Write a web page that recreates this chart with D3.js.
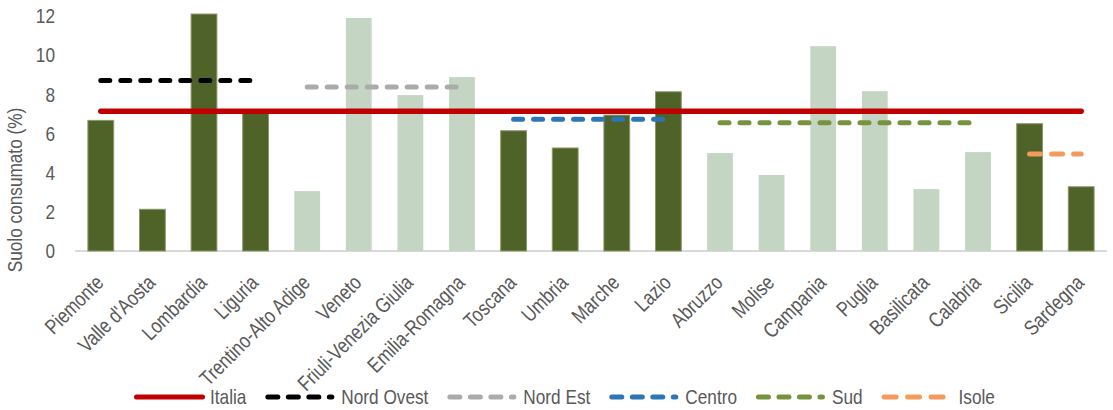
<!DOCTYPE html>
<html>
<head>
<meta charset="utf-8">
<script src="https://cdn.jsdelivr.net/npm/d3@7"></script>
<style>
  html, body { margin: 0; padding: 0; background: #fff; }
  svg { display: block; }
  text { font-family: "Liberation Sans", Arial, sans-serif; fill: #595959; }
</style>
</head>
<body>
<svg id="chart" width="1113" height="410"></svg>
<script>
// ---- data ----
const categories = ["Piemonte", "Valle d'Aosta", "Lombardia", "Liguria", "Trentino-Alto Adige", "Veneto",
  "Friuli-Venezia Giulia", "Emilia-Romagna", "Toscana", "Umbria", "Marche", "Lazio", "Abruzzo", "Molise",
  "Campania", "Puglia", "Basilicata", "Calabria", "Sicilia", "Sardegna"];
const macroArea = ["NO", "NO", "NO", "NO", "NE", "NE", "NE", "NE", "C", "C", "C", "C",
  "S", "S", "S", "S", "S", "S", "I", "I"];
const regionValues = [6.67, 2.13, 12.1, 7.05, 3.06, 11.9, 7.96, 8.88, 6.14, 5.26, 6.94, 8.13,
  5.0, 3.88, 10.46, 8.16, 3.16, 5.05, 6.5, 3.28];
const italia    = [7.13, 7.13, 7.13, 7.13, 7.13, 7.13, 7.13, 7.13, 7.13, 7.13, 7.13, 7.13, 7.13, 7.13, 7.13, 7.13, 7.13, 7.13, 7.13, 7.13];
const nordOvest = [8.71, 8.71, 8.71, 8.71, null, null, null, null, null, null, null, null, null, null, null, null, null, null, null, null];
const nordEst   = [null, null, null, null, 8.38, 8.38, 8.38, 8.38, null, null, null, null, null, null, null, null, null, null, null, null];
const centro    = [null, null, null, null, null, null, null, null, 6.73, 6.73, 6.73, 6.73, null, null, null, null, null, null, null, null];
const sud       = [null, null, null, null, null, null, null, null, null, null, null, null, 6.55, 6.55, 6.55, 6.55, 6.55, 6.55, null, null];
const isole     = [null, null, null, null, null, null, null, null, null, null, null, null, null, null, null, null, null, null, 4.95, 4.95];
const yTicks = [0, 2, 4, 6, 8, 10, 12];
const yTitle = "Suolo consumato (%)";

// ---- styling ----
const NARROW = 0.82; // horizontal compression to imitate a narrow typeface
const FS = 21;
const darkAreas = new Set(["NO", "C", "I"]);
const barDark = "#4F6228", barLight = "#C4D6C3";
const lineSeries = [
  { name: "Italia",     values: italia,    color: "#C00000", dash: null,    legDash: null,        legLen: 66 },
  { name: "Nord Ovest", values: nordOvest, color: "#000000", dash: "9,11",  legDash: "10,10.5",   legLen: 64 },
  { name: "Nord Est",   values: nordEst,   color: "#ABABAB", dash: "9,11",  legDash: "10,10.5",   legLen: 64 },
  { name: "Centro",     values: centro,    color: "#2E75B6", dash: "9,11",  legDash: "10,10.5",   legLen: 64 },
  { name: "Sud",        values: sud,       color: "#77933C", dash: "9,11",  legDash: "10,10.5",   legLen: 64 },
  { name: "Isole",      values: isole,     color: "#F39A5C", dash: "11,11", legDash: "12,11.5",   legLen: 60 }
];

const svg = d3.select("#chart");
const x = d3.scaleBand().domain(categories).range([75, 1107]).paddingInner(0.5).paddingOuter(0.25);
const y = d3.scaleLinear().domain([0, 12]).range([251, 16]);

// axis baseline
svg.append("line").attr("x1", 75).attr("x2", 1107).attr("y1", y(0)).attr("y2", y(0))
  .attr("stroke", "#D9D9D9").attr("stroke-width", 2);

// bars
svg.append("g").selectAll("rect").data(categories).join("rect")
  .attr("x", d => x(d))
  .attr("width", x.bandwidth())
  .attr("y", (d, i) => y(regionValues[i]))
  .attr("height", (d, i) => y(0) - y(regionValues[i]))
  .attr("fill", (d, i) => darkAreas.has(macroArea[i]) ? barDark : barLight)
  .attr("stroke", (d, i) => darkAreas.has(macroArea[i]) ? "#8A9868" : "none")
  .attr("stroke-width", 1);

// lines
const cx = d => x(d) + x.bandwidth() / 2;
lineSeries.forEach(s => {
  const gen = d3.line()
    .defined((d, i) => s.values[i] != null)
    .x(d => cx(d))
    .y((d, i) => y(s.values[i]));
  svg.append("path").datum(categories)
    .attr("d", gen)
    .attr("fill", "none")
    .attr("stroke", s.color)
    .attr("stroke-width", s.dash ? 5 : 5.5)
    .attr("stroke-linecap", "round")
    .attr("stroke-dasharray", s.dash);
});

// y axis
const yAxis = d3.axisLeft(y).tickValues(yTicks).tickSize(0).tickPadding(0);
const gy = svg.append("g").attr("transform", "translate(55,0)").call(yAxis);
gy.select(".domain").remove();
gy.selectAll("text").attr("font-size", FS).attr("font-family", null).attr("fill", "#595959")
  .attr("x", 0).attr("transform", `scale(${NARROW},1)`);

// y title
svg.append("text")
  .attr("transform", `translate(22,190) rotate(-90) scale(${NARROW},1)`)
  .attr("text-anchor", "middle")
  .attr("font-size", FS)
  .text(yTitle);

// x axis labels
const xAxis = d3.axisBottom(x).tickSize(0).tickPadding(0);
const gx = svg.append("g").attr("transform", `translate(0,${y(0)})`).call(xAxis);
gx.select(".domain").remove();
gx.selectAll("text")
  .attr("font-size", FS).attr("font-family", null).attr("fill", "#595959")
  .attr("text-anchor", "end")
  .attr("dy", null).attr("y", 0)
  .attr("transform", `translate(4,33) rotate(-45) scale(${NARROW},1)`);

// legend
const legend = svg.append("g");
let lx = 134;
const ly = 397;
lineSeries.forEach(s => {
  legend.append("line")
    .attr("x1", lx + 2.5).attr("x2", lx + 2.5 + s.legLen).attr("y1", ly).attr("y2", ly)
    .attr("stroke", s.color).attr("stroke-width", 5)
    .attr("stroke-linecap", "round")
    .attr("stroke-dasharray", s.legDash);
  const tx = lx + (s.name === "Isole" ? 77 : 76);
  const t = legend.append("text")
    .attr("transform", `translate(${tx},${ly}) scale(${NARROW},1)`)
    .attr("dy", "0.35em")
    .attr("font-size", FS)
    .text(s.name);
  const w = t.node().getComputedTextLength() * NARROW;
  lx = tx + w + 19;
});
</script>
</body>
</html>
